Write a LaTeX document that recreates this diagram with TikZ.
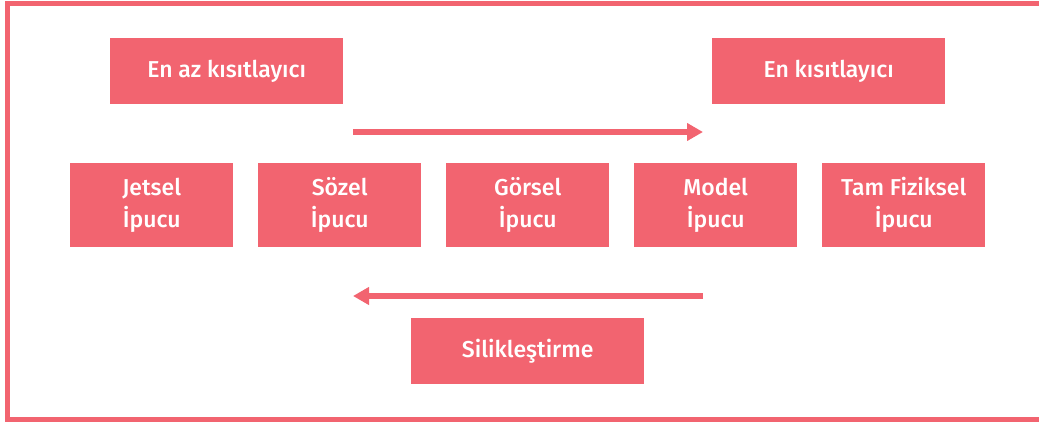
\documentclass[tikz,border=0pt]{standalone}
\usepackage{fontspec}
\setmainfont{Fira Sans}[BoldFont={Fira Sans Medium}]
\usetikzlibrary{arrows.meta}
\definecolor{pk}{HTML}{F26470}
\tikzset{
  box/.style={fill=pk, text=white, font=\fontsize{23}{32}\selectfont\bfseries, align=center, inner sep=0pt, anchor=north west},
  arr/.style={draw=pk, line width=6pt, -{Triangle[length=16pt,width=17pt]}},
}
\begin{document}
\begin{tikzpicture}[x=1pt,y=1pt]
\useasboundingbox (0,0) rectangle (1039,424);
\draw[pk, line width=5pt] (1039,420.7) -- (7.5,420.7) -- (7.5,5) -- (1039,5);
\node[box, minimum width=233pt, minimum height=66pt] (least) at (110,386) {En az kısıtlayıcı};
\node[box, minimum width=233pt, minimum height=66pt] (most) at (712,386) {En kısıtlayıcı};
\node[box, minimum width=163pt, minimum height=84pt] (jet) at (70,261) {Jetsel\\İpucu};
\node[box, minimum width=163pt, minimum height=84pt] (soz) at (258,261) {Sözel\\İpucu};
\node[box, minimum width=163pt, minimum height=84pt] (gor) at (446,261) {Görsel\\İpucu};
\node[box, minimum width=163pt, minimum height=84pt] (mod) at (634,261) {Model\\İpucu};
\node[box, minimum width=163pt, minimum height=84pt] (tam) at (822,261) {Tam Fiziksel\\İpucu};
\node[box, minimum width=233pt, minimum height=66pt] (sil) at (411,106) {Silikleştirme};
\coordinate (a1) at (353,292);
\coordinate (a2) at (703,292);
\coordinate (b1) at (703,128);
\coordinate (b2) at (353,128);
\draw[arr] (a1) -- (a2);
\draw[arr] (b1) -- (b2);
\end{tikzpicture}
\end{document}
